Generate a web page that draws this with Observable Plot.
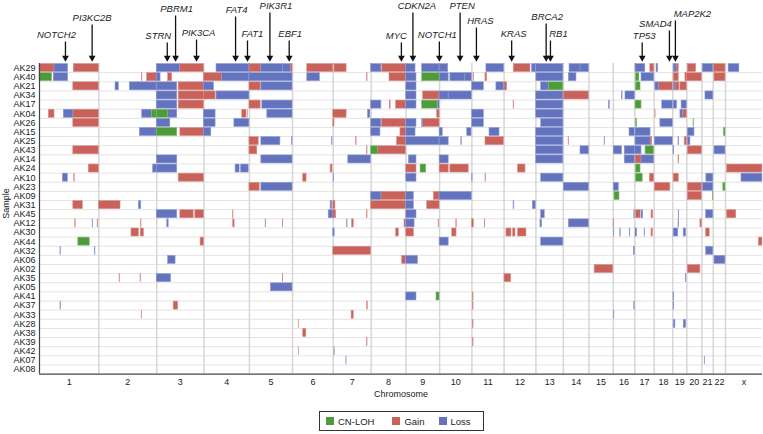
<!DOCTYPE html>
<html><head><meta charset="utf-8">
<script src="https://cdn.jsdelivr.net/npm/d3@7"></script>
<script src="https://cdn.jsdelivr.net/npm/@observablehq/plot@0.6"></script>
<style>
body{margin:0;background:#fff;font-family:"Liberation Sans",Arial,sans-serif;}
#wrap{position:relative;width:763px;height:434px;}
#legend{position:absolute;left:319px;top:411px;width:165px;height:20px;border:1px solid #333;box-sizing:border-box;font-size:9.5px;color:#222;display:flex;align-items:center;}
#legend span.sw{display:inline-block;width:8px;height:8px;margin:0 4px 0 6px;}
#legend span.lb{margin-right:12px;}
</style></head><body>
<div id="wrap"><div id="chart"></div>
<div id="legend"><span class="sw" style="background:#4f9b3c"></span><span class="lb">CN-LOH</span><span class="sw" style="background:#c8625b;margin-left:6px"></span><span class="lb">Gain</span><span class="sw" style="background:#6373be;margin-left:2px"></span><span class="lb">Loss</span></div>
</div>
<script>
const samples = ["AK29","AK40","AK21","AK34","AK17","AK04","AK26","AK15","AK25","AK43","AK14","AK24","AK10","AK23","AK09","AK31","AK45","AK12","AK30","AK44","AK32","AK06","AK02","AK35","AK05","AK41","AK37","AK33","AK28","AK38","AK39","AK42","AK07","AK08"];
const chromosomes = ["1","2","3","4","5","6","7","8","9","10","11","12","13","14","15","16","17","18","19","20","21","22","X"];
const chromLabels = ["1","2","3","4","5","6","7","8","9","10","11","12","13","14","15","16","17","18","19","20","21","22","x"];
const chromLengths = [249.25,243.2,198.0,191.15,180.9,171.1,159.1,146.4,141.2,135.5,135.0,133.85,115.2,107.35,102.5,90.35,81.2,78.1,59.1,63.0,48.1,51.3,155.3];

// [sample, chromosome, start Mb, end Mb]
const gains = [
["AK29","1",0,63],["AK29","1",144,249],["AK29","3",97,198],["AK29","5",0,50],["AK29","5",173,181],["AK29","6",62,171],["AK29","7",5,56],["AK29","8",46,146],["AK29","12",41,111],["AK29","17",65,81],["AK29","19",16,25],["AK29","20",4,39],["AK29","22",2,51],
["AK40","2",181,183],["AK40","2",203,243],["AK40","3",48,64],["AK40","4",0,77],["AK40","7",142,144],["AK40","8",77,146],["AK40","11",7,9],["AK40","11",57,64],["AK40","19",4,25],["AK40","19",53,59],["AK40","20",0,63],["AK40","22",5,51],
["AK21","1",142,249],["AK21","3",92,198],["AK21","5",0,47],["AK21","12",2,13],["AK21","18",19,78],["AK21","19",11,28],["AK21","19",32,59],
["AK34","3",92,198],["AK34","4",0,49],["AK34","9",72,141],["AK34","14",2,107],
["AK17","3",92,198],["AK17","5",0,47],["AK17","8",78,82],["AK17","8",105,146],["AK17","12",40,42],
["AK04","1",39,63],["AK04","1",142,249],["AK04","4",161,179],["AK04","4",184,185],["AK04","7",0,56],["AK04","9",131,141],["AK04","18",5,6],["AK04","19",42,59],
["AK26","1",142,249],["AK26","7",0,5],["AK26","8",46,146],["AK26","9",72,141],
["AK15","3",99,198],["AK15","8",123,146],
["AK25","5",0,39],["AK25","7",96,98],["AK25","8",109,146],["AK25","11",57,134],["AK25","14",22,24],["AK25","17",66,73],["AK25","19",50,59],
["AK43","1",142,249],["AK43","5",0,33],["AK43","7",142,144],["AK43","8",29,146],["AK43","20",4,63],
["AK14","17",3,28],["AK14","19",24,27],
["AK24","1",207,249],["AK24","6",160,168],["AK24","9",1,44],["AK24","10",0,38],["AK24","10",45,122],["AK24","12",59,90],["AK24","X",7,155],
["AK10","1",146,148],["AK10","3",92,198],["AK10","6",45,59],["AK10","11",57,59],["AK10","17",63,81],["AK10","19",4,25],
["AK23","5",0,43],["AK23","18",3,68],["AK23","20",4,63],
["AK09","8",43,146],["AK09","9",117,141],["AK09","20",4,63],
["AK31","1",142,182],["AK31","2",0,91],["AK31","7",0,9],["AK31","8",0,146],["AK31","9",89,141],
["AK45","3",99,155],["AK45","3",162,198],["AK45","4",122,124],["AK45","7",0,12],["AK45","7",142,144],["AK45","17",5,24],["AK45","17",70,77],["AK45","X",7,45],
["AK12","1",150,152],["AK12","1",244,246],["AK12","2",177,179],["AK12","4",123,129],["AK12","5",140,142],["AK12","7",79,86],["AK12","8",140,146],["AK12","9",137,139],["AK12","10",70,72],["AK12","11",1,8],["AK12","11",54,56],["AK12","16",1,3],["AK12","20",57,63],
["AK30","2",137,168],["AK30","2",176,189],["AK30","8",105,116],["AK30","9",1,33],["AK30","10",53,71],["AK30","12",10,31],["AK30","12",38,48],["AK30","12",59,94],["AK30","17",70,76],["AK30","21",18,33],
["AK44","3",184,198],["AK44","X",140,155],
["AK32","7",0,159],
["AK06","8",130,146],
["AK02","15",24,102],["AK02","20",4,57],
["AK35","2",87,89],["AK35","2",175,177],["AK35","5",140,142],["AK35","12",2,30],
["AK41","11",4,7],
["AK37","3",71,90],["AK37","7",142,145],["AK37","11",4,7],
["AK33","2",180,182],["AK33","7",77,86],
["AK28","6",26,27],["AK28","11",4,7],
["AK38","6",45,58],
["AK39","7",142,144],["AK39","11",4,7],
["AK42","6",26,27]
];
const losses = [
["AK29","1",63,120],["AK29","3",0,97],["AK29","4",53,191],["AK29","5",50,140],["AK29","5",140,173],["AK29","8",0,43],["AK29","9",0,40],["AK29","9",68,141],["AK29","10",0,36],["AK29","11",61,135],["AK29","12",118,134],["AK29","13",1,115],["AK29","14",26,72],["AK29","14",72,107],["AK29","17",3,44],["AK29","18",10,17],["AK29","19",4,16],["AK29","21",4,48],["AK29","X",13,58],
["AK40","1",60,120],["AK40","3",0,16],["AK40","4",77,191],["AK40","5",0,181],["AK40","6",62,115],["AK40","9",1,44],["AK40","10",0,38],["AK40","10",45,108],["AK40","10",108,135],["AK40","13",2,115],["AK40","14",23,55],["AK40","17",28,81],
["AK21","2",70,84],["AK21","2",130,243],["AK21","3",0,86],["AK21","4",0,42],["AK21","5",50,181],["AK21","9",1,44],["AK21","11",1,50],["AK21","11",103,135],["AK21","13",22,54],["AK21","18",5,19],["AK21","19",4,11],
["AK34","3",0,86],["AK34","4",53,191],["AK34","9",1,44],["AK34","10",0,38],["AK34","10",38,135],["AK34","13",1,115],["AK34","16",36,39],["AK34","16",51,90],["AK34","21",15,48],
["AK17","3",0,86],["AK17","5",54,181],["AK17","8",0,43],["AK17","9",1,44],["AK17","9",133,141],["AK17","13",1,115],["AK17","15",84,88],["AK17","18",34,78],["AK17","19",4,18],["AK17","19",37,59],
["AK04","1",102,142],["AK04","2",182,224],["AK04","3",48,86],["AK04","4",0,49],["AK04","5",75,181],["AK04","7",146,156],["AK04","11",1,50],["AK04","13",1,115],["AK04","19",32,42],
["AK26","3",0,57],["AK26","4",0,49],["AK26","4",128,191],["AK26","8",0,43],["AK26","9",1,44],["AK26","9",68,72],["AK26","11",1,50],["AK26","13",22,115],["AK26","18",26,78],
["AK15","2",172,243],["AK15","4",0,31],["AK15","8",0,39],["AK15","9",1,40],["AK15","10",0,13],["AK15","10",116,134],["AK15","11",74,116],["AK15","13",1,115],["AK15","16",68,90],["AK15","17",3,66],["AK15","20",4,32],
["AK25","5",50,130],["AK25","5",179,181],["AK25","6",166,168],["AK25","9",1,141],["AK25","10",0,38],["AK25","10",91,93],["AK25","13",1,115],["AK25","15",66,68],["AK25","17",3,66],["AK25","18",3,78],["AK25","19",24,27],["AK25","20",4,15],
["AK43","13",1,115],["AK43","14",72,107],["AK43","16",2,37],["AK43","16",48,90],["AK43","17",0,28],["AK43","19",3,6],["AK43","22",5,51],
["AK14","3",0,86],["AK14","5",50,181],["AK14","7",63,158],["AK14","9",12,44],["AK14","10",0,38],["AK14","13",1,115],["AK14","16",48,90],["AK14","17",28,81],
["AK24","2",228,243],["AK24","3",0,86],["AK24","4",133,150],["AK24","4",156,188],
["AK10","1",98,119],["AK10","7",1,3],["AK10","9",1,44],["AK10","11",1,3],["AK10","13",22,115],["AK10","21",19,48],["AK10","X",67,155],
["AK23","5",50,181],["AK23","14",2,107],["AK23","16",2,23],["AK23","21",4,48],
["AK09","8",0,43],["AK09","9",1,33],["AK09","10",0,135],
["AK31","2",168,178],["AK31","6",160,167],["AK31","9",1,33],["AK31","12",40,43],["AK31","12",121,133],
["AK45","3",0,86],["AK45","6",152,171],["AK45","9",1,44],["AK45","13",22,37],["AK45","16",88,90],["AK45","17",28,35],["AK45","19",25,27],["AK45","21",18,48],
["AK12","1",223,225],["AK12","3",44,50],["AK12","5",68,70],["AK12","7",58,60],["AK12","9",1,36],["AK12","13",19,26],["AK12","14",23,107],["AK12","19",24,27],
["AK30","7",0,6],["AK30","16",2,4],["AK30","16",29,31],["AK30","16",69,71],["AK30","17",3,10],["AK30","17",41,43],["AK30","19",4,23],["AK30","19",46,56],
["AK44","10",0,38],["AK44","13",22,115],
["AK32","1",88,90],["AK32","1",233,235],["AK32","16",86,90],["AK32","21",18,48],
["AK06","3",48,79],["AK06","9",1,50],["AK06","22",5,51],
["AK35","3",0,60],["AK35","19",55,57],
["AK05","5",90,181],
["AK41","9",1,44],["AK41","19",3,6],
["AK37","1",88,90],["AK37","16",88,90],["AK37","19",3,6],
["AK33","16",2,4],
["AK28","19",4,11],["AK28","19",46,56],
["AK42","7",5,6],
["AK07","7",55,56],["AK07","21",12,14]
];
const cnloh = [
["AK40","1",0,53],["AK40","9",68,141],["AK40","17",5,19],
["AK21","13",54,115],["AK21","17",5,24],
["AK17","9",68,133],["AK17","17",3,28],
["AK04","2",224,243],["AK04","3",0,48],
["AK26","17",5,10],["AK26","20",28,30],
["AK15","3",0,86],["AK15","22",44,51],
["AK43","8",0,29],["AK43","17",45,80],
["AK24","9",61,85],["AK24","17",5,24],
["AK10","17",5,33],
["AK23","22",42,51],
["AK09","16",5,26],["AK09","21",46,48],
["AK44","1",163,211],
["AK41","9",128,141]
];
const geneNames = ["NOTCH2","PI3KC2B","STRN","PBRM1","PIK3CA","FAT4","FAT1","PIK3R1","EBF1","MYC","CDKN2A","NOTCH1","PTEN","HRAS","KRAS","BRCA2","RB1","TP53","SMAD4","MAP2K2"];
const geneChroms = ["1","1","3","3","3","4","4","5","5","8","9","9","10","11","12","13","13","17","18","19"];
const genePosMb = [109,221,44,79,167,133,183,86,167,127,29,140,86,19,32,43,61,31,64,11];

// ---- layout (pixels) ----
const W = 763, H = 405, mTop = 63, mBottom = 31.4, mLeft = 39, mRight = 1;
const labelCenterY = [34,17,35,8,32,9,33,5,33,35,5,34,5,20,33,16,33,35,23,13];
const labelDx = [-9,0,-9,1,2,1,5,6,1,-5,4,-2,2,4,2,1,8,2,-14,17];
const COLORS = {"CN-LOH":"#4f9b3c", "Gain":"#c8625b", "Loss":"#6373be"};
const STROKES = {"CN-LOH":"#7fbf6e", "Gain":"#dc8f88", "Loss":"#8f9bd6"};

const nRows = samples.length;
const rowH = (H - mBottom - mTop) / nRows;
const pxToRow = py => (py - mTop) / rowH;

const cumStart = {};
let acc = 0;
chromosomes.forEach((c, i) => { cumStart[c] = acc; acc += chromLengths[i]; });
const total = acc;
const rowOf = Object.fromEntries(samples.map((s, i) => [s, i]));
const toSeg = d => ({sample: d[0], row: rowOf[d[0]], x1: cumStart[d[1]] + d[2], x2: cumStart[d[1]] + d[3]});

const boundaries = chromosomes.slice(1).map(c => cumStart[c]);
const mids = chromosomes.map((c, i) => cumStart[c] + chromLengths[i] / 2);
const midLabel = new Map(mids.map((m, i) => [m, chromLabels[i]]));

const genes = geneNames.map((g, i) => ({
  name: g, x: cumStart[geneChroms[i]] + genePosMb[i],
  ly: pxToRow(labelCenterY[i]), lineTop: pxToRow(labelCenterY[i] + 7), head: pxToRow(57.3), dx: labelDx[i]
}));

const segMark = (data, type) => Plot.rect(data.map(toSeg), {
  x1: "x1", x2: "x2", y1: d => d.row + 0.06, y2: d => d.row + 0.94,
  fill: COLORS[type], stroke: STROKES[type], strokeWidth: 0.6
});

const chart = Plot.plot({
  width: W, height: H,
  marginLeft: mLeft, marginRight: mRight, marginTop: mTop, marginBottom: mBottom,
  x: {domain: [0, total]},
  y: {domain: [0, nRows], reverse: true},
  style: {fontFamily: '"Liberation Sans", Arial, sans-serif', fontSize: "9px", background: "white", overflow: "visible"},
  marks: [
    Plot.ruleY(d3.range(1, nRows), {stroke: "#e3e3e3", strokeWidth: 1}),
    Plot.ruleX(boundaries, {stroke: "#d6d6d6", strokeWidth: 1.5}),
    segMark(gains, "Gain"),
    segMark(losses, "Loss"),
    segMark(cnloh, "CN-LOH"),
    Plot.ruleX([0], {stroke: "#444", strokeWidth: 1.2}),
    Plot.ruleY([nRows], {stroke: "#444", strokeWidth: 1.2}),
    Plot.axisY(samples.map((s, i) => i + 0.5), {tickFormat: d => samples[Math.round(d - 0.5)], tickSize: 0, tickPadding: 4, fontSize: 9, label: null, fill: "#222"}),
    Plot.axisX(mids, {tickFormat: d => midLabel.get(d), tickSize: 0, tickPadding: 5, fontSize: 9, label: null, fill: "#222"}),
    Plot.text(["Chromosome"], {text: d => d, frameAnchor: "bottom", dy: 23, fontSize: 9, fill: "#222"}),
    Plot.text(["Sample"], {text: d => d, frameAnchor: "left", dx: -33, rotate: -90, fontSize: 9, fill: "#222"}),
    Plot.link(genes, {x1: "x", x2: "x", y1: "lineTop", y2: "head", stroke: "#111", strokeWidth: 1.3}),
    Plot.dot(genes, {x: "x", y: "head", symbol: "triangle", rotate: 180, r: 2.5, fill: "#111", stroke: null}),
    ...genes.map(g => Plot.text([g], {x: "x", y: "ly", text: "name", dx: g.dx, fontSize: 9.5, fontStyle: "italic", fill: "#222"}))
  ]
});
document.getElementById("chart").appendChild(chart);
</script>
</body></html>
